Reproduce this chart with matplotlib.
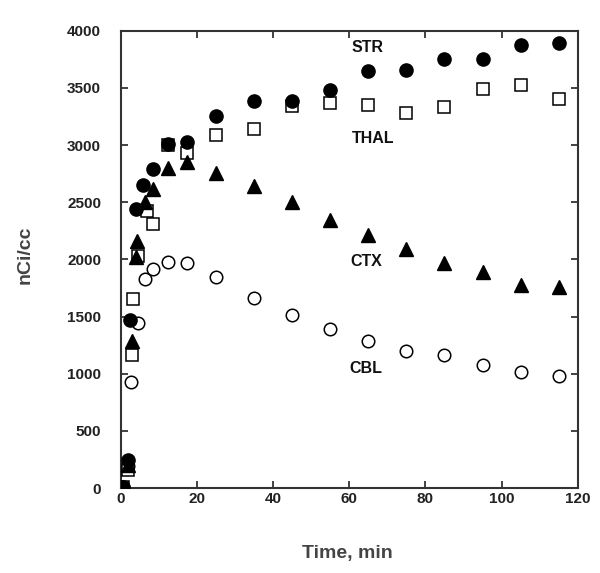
import matplotlib
matplotlib.use("Agg")
import matplotlib.pyplot as plt

plt.rcParams['font.family'] = ['Liberation Sans', 'DejaVu Sans']

# Data (time in min, activity in nCi/cc)
str_t = [0.5, 2, 2.5, 4, 6, 8.5, 12.5, 17.5, 25, 35, 45, 55, 65, 75, 85, 95, 105, 115]
str_v = [10, 245, 1470, 2440, 2650, 2790, 3010, 3030, 3255, 3385, 3385, 3480, 3645, 3660, 3750, 3750, 3875, 3890]

thal_t = [0.5, 2, 3, 3.3, 4.5, 6.8, 8.5, 12.5, 17.5, 25, 35, 45, 55, 65, 75, 85, 95, 105, 115]
thal_v = [10, 160, 1160, 1655, 2030, 2420, 2310, 3000, 2930, 3090, 3140, 3340, 3365, 3350, 3280, 3330, 3490, 3525, 3400]

ctx_t = [0.5, 2, 3, 4, 4.2, 6.5, 8.5, 12.5, 17.5, 25, 35, 45, 55, 65, 75, 85, 95, 105, 115]
ctx_v = [10, 200, 1290, 2020, 2160, 2500, 2620, 2800, 2855, 2760, 2645, 2500, 2345, 2210, 2095, 1965, 1890, 1775, 1755]

cbl_t = [0.5, 2, 2.8, 4.6, 6.5, 8.5, 12.5, 17.5, 25, 35, 45, 55, 65, 75, 85, 95, 105, 115]
cbl_v = [10, 190, 930, 1445, 1830, 1920, 1980, 1970, 1850, 1660, 1515, 1390, 1285, 1200, 1160, 1075, 1015, 980]

labels = ["STR", "THAL", "CTX", "CBL"]
label_pos = [(60.5, 3850), (60.8, 3060), (60.2, 1980), (60.0, 1047)]

x_ticks = [0, 20, 40, 60, 80, 100, 120]
y_ticks = [0, 500, 1000, 1500, 2000, 2500, 3000, 3500, 4000]

fig = plt.figure(figsize=(6.0, 5.73), dpi=100)
ax = fig.add_axes([0.201, 0.1483, 0.762, 0.798])

ms = 9
ax.plot(cbl_t, cbl_v, 'o', ms=ms, mfc='white', mec='black', mew=1.1, ls='none', zorder=3)
ax.plot(thal_t, thal_v, 's', ms=ms, mfc='white', mec='black', mew=1.1, ls='none', zorder=4)
ax.plot(ctx_t, ctx_v, '^', ms=ms + 0.5, mfc='black', mec='black', mew=1.0, ls='none', zorder=5)
ax.plot(str_t, str_v, 'o', ms=ms + 0.5, mfc='black', mec='black', mew=1.0, ls='none', zorder=6)

for lab, (x, y) in zip(labels, label_pos):
    ax.text(x, y, lab, fontsize=11.5, fontweight='bold', ha='left', va='center', color='#111111')

ax.set_xlim(0, 120)
ax.set_ylim(0, 4000)
ax.set_xticks(x_ticks)
ax.set_yticks(y_ticks)
ax.tick_params(direction='in', length=5, width=1.2, top=True, right=True,
               labelsize=11, colors='#222222')
ax.tick_params(axis='y', pad=14)
ax.tick_params(axis='x', pad=3)
for lbl in ax.get_xticklabels() + ax.get_yticklabels():
    lbl.set_fontweight('bold')
for sp in ax.spines.values():
    sp.set_linewidth(1.5)
    sp.set_color('#333333')

ax.set_xlabel("Time, min", fontsize=14, fontweight='bold', color='#444444')
ax.set_ylabel("nCi/cc", fontsize=14, fontweight='bold', color='#444444')
ax.xaxis.set_label_coords(0.495, -0.125)
ax.yaxis.set_label_coords(-0.19, 0.51)

fig.savefig("out.png", dpi=100)
